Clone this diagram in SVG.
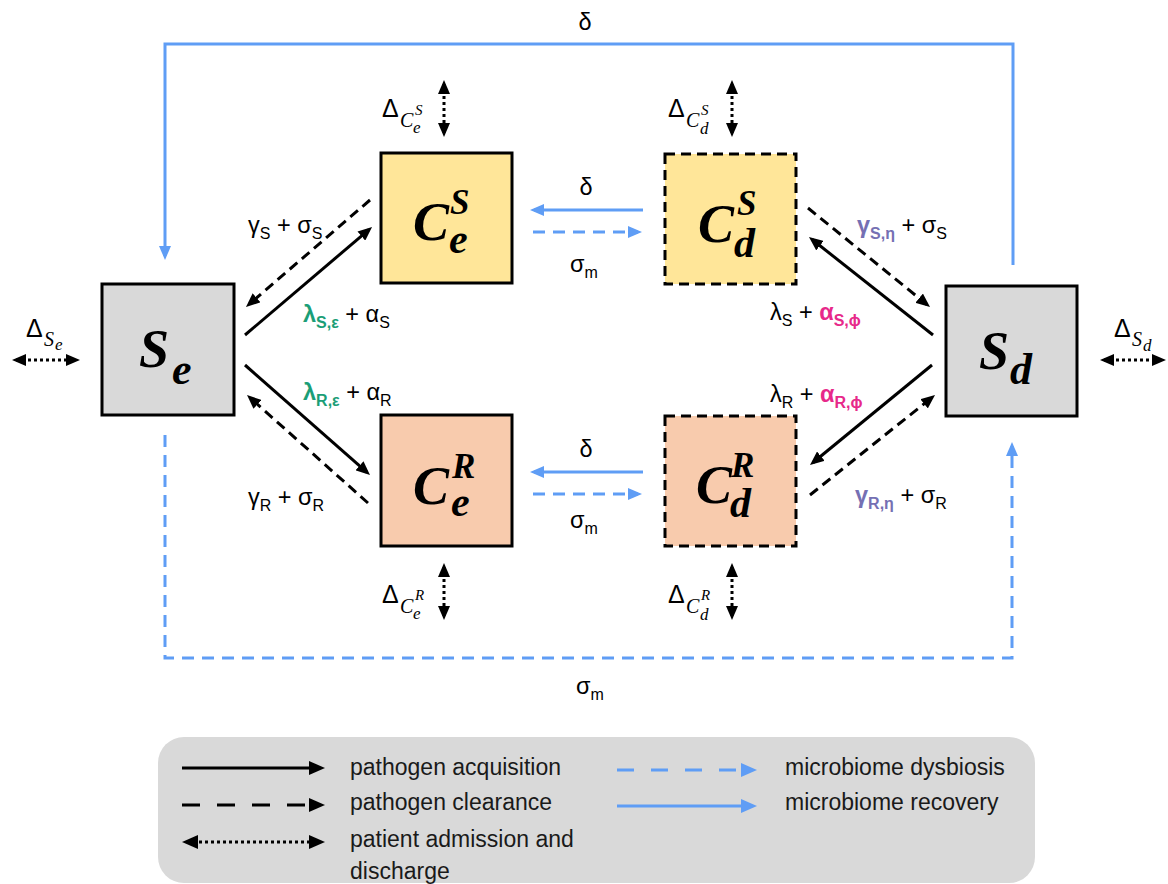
<svg xmlns="http://www.w3.org/2000/svg" width="1168" height="884" viewBox="0 0 1168 884">
<style>
.lbl{font-family:"Liberation Sans",Arial,sans-serif;font-size:23.5px;fill:#000}
.sub{font-size:16px}
.b{font-weight:bold}
.g{fill:#1b9e77}
.p{fill:#e7298a}
.v{fill:#7570b3}
.node{font-family:"Liberation Serif","Times New Roman",serif;font-weight:bold;font-style:italic;fill:#000}
.mi{font-family:"Liberation Serif","Times New Roman",serif;font-style:italic}
.blk{stroke:#000;stroke-width:3;fill:none}
.dash{stroke-dasharray:10 6}
.dot{stroke-dasharray:3 3}
.blue{stroke:#5f9df5;stroke-width:3;fill:none}
.bdash{stroke-dasharray:12 8}
.box{stroke:#000;stroke-width:3}
.leg{font-family:"Liberation Sans",Arial,sans-serif;font-size:23px;fill:#1a1a1a}
</style>
<defs>
<marker id="ab" viewBox="0 0 14 12" refX="10" refY="6" markerWidth="14" markerHeight="12" markerUnits="userSpaceOnUse" orient="auto-start-reverse"><path d="M0,0 L14,6 L0,12 z" fill="#000"/></marker>
<marker id="abl" viewBox="0 0 14 12" refX="10" refY="6" markerWidth="14" markerHeight="12" markerUnits="userSpaceOnUse" orient="auto-start-reverse"><path d="M0,0 L14,6 L0,12 z" fill="#5f9df5"/></marker>
<marker id="abL" viewBox="0 0 16 14" refX="11" refY="7" markerWidth="16" markerHeight="14" markerUnits="userSpaceOnUse" orient="auto-start-reverse"><path d="M0,0 L16,7 L0,14 z" fill="#000"/></marker>
<marker id="ablL" viewBox="0 0 16 14" refX="11" refY="7" markerWidth="16" markerHeight="14" markerUnits="userSpaceOnUse" orient="auto-start-reverse"><path d="M0,0 L16,7 L0,14 z" fill="#5f9df5"/></marker>
</defs>
<rect width="1168" height="884" fill="#fff"/>

<g id="connectors">
  <path class="blue" d="M1013,265 L1013,44 L165,44 L165,256" marker-end="url(#abl)"/>
  <path class="blue bdash" d="M165,435 L165,658 L1012,658 L1012,446" marker-end="url(#abl)"/>
  <line class="blue" x1="643" y1="210" x2="534" y2="210" marker-end="url(#abl)"/>
  <line class="blue bdash" x1="533" y1="232" x2="638" y2="232" marker-end="url(#abl)"/>
  <line class="blue" x1="643" y1="472" x2="534" y2="472" marker-end="url(#abl)"/>
  <line class="blue bdash" x1="533" y1="494" x2="638" y2="494" marker-end="url(#abl)"/>
  <line class="blk" x1="245" y1="335" x2="369" y2="229.6" marker-end="url(#ab)"/>
  <line class="blk dash" x1="370" y1="200" x2="249" y2="304.4" marker-end="url(#ab)"/>
  <line class="blk" x1="245" y1="365" x2="367" y2="472.4" marker-end="url(#ab)"/>
  <line class="blk dash" x1="368" y1="503" x2="250" y2="397.7" marker-end="url(#ab)"/>
  <line class="blk dash" x1="808" y1="208" x2="926.9" y2="304.5" marker-end="url(#ab)"/>
  <line class="blk" x1="933" y1="335" x2="812.1" y2="239.5" marker-end="url(#ab)"/>
  <line class="blk" x1="932" y1="365" x2="813.1" y2="462.5" marker-end="url(#ab)"/>
  <line class="blk dash" x1="810" y1="495" x2="931.9" y2="397.5" marker-end="url(#ab)"/>
  <line class="blk dot" x1="444" y1="84" x2="444" y2="133" marker-start="url(#ab)" marker-end="url(#ab)"/>
  <line class="blk dot" x1="732" y1="84" x2="732" y2="133" marker-start="url(#ab)" marker-end="url(#ab)"/>
  <line class="blk dot" x1="444" y1="567" x2="444" y2="616" marker-start="url(#ab)" marker-end="url(#ab)"/>
  <line class="blk dot" x1="732" y1="567" x2="732" y2="616" marker-start="url(#ab)" marker-end="url(#ab)"/>
  <line class="blk dot" x1="16" y1="360" x2="76" y2="360" marker-start="url(#ab)" marker-end="url(#ab)"/>
  <line class="blk dot" x1="1104" y1="360" x2="1162" y2="360" marker-start="url(#ab)" marker-end="url(#ab)"/>

  <text class="lbl" x="585" y="30" text-anchor="middle">δ</text>
  <text class="lbl" x="586" y="195" text-anchor="middle">δ</text>
  <text class="lbl" x="586" y="457" text-anchor="middle">δ</text>
  <text class="lbl" x="570" y="272">σ<tspan class="sub" dy="6">m</tspan></text>
  <text class="lbl" x="570" y="528">σ<tspan class="sub" dy="6">m</tspan></text>
  <text class="lbl" x="576" y="694">σ<tspan class="sub" dy="6">m</tspan></text>

  <text class="lbl" x="248" y="233">γ<tspan class="sub" dy="6">S</tspan><tspan dy="-6"> + σ</tspan><tspan class="sub" dy="6">S</tspan></text>
  <text class="lbl" x="303" y="322"><tspan class="g b">λ</tspan><tspan class="g b sub" dy="6">S,ε</tspan><tspan dy="-6"> + α</tspan><tspan class="sub" dy="6">S</tspan></text>
  <text class="lbl" x="303" y="400"><tspan class="g b">λ</tspan><tspan class="g b sub" dy="6">R,ε</tspan><tspan dy="-6"> + α</tspan><tspan class="sub" dy="6">R</tspan></text>
  <text class="lbl" x="248" y="505">γ<tspan class="sub" dy="6">R</tspan><tspan dy="-6"> + σ</tspan><tspan class="sub" dy="6">R</tspan></text>

  <text class="lbl" x="857" y="233"><tspan class="v b">γ</tspan><tspan class="v b sub" dy="6">S,η</tspan><tspan dy="-6"> + σ</tspan><tspan class="sub" dy="6">S</tspan></text>
  <text class="lbl" x="770" y="320">λ<tspan class="sub" dy="6">S</tspan><tspan dy="-6"> + </tspan><tspan class="p b">α</tspan><tspan class="p b sub" dy="6">S,ϕ</tspan></text>
  <text class="lbl" x="770" y="402">λ<tspan class="sub" dy="6">R</tspan><tspan dy="-6"> + </tspan><tspan class="p b">α</tspan><tspan class="p b sub" dy="6">R,ϕ</tspan></text>
  <text class="lbl" x="855" y="503"><tspan class="v b">γ</tspan><tspan class="v b sub" dy="6">R,η</tspan><tspan dy="-6"> + σ</tspan><tspan class="sub" dy="6">R</tspan></text>

  <text class="lbl" style="font-size:25px"><tspan x="382" y="117">Δ</tspan><tspan class="mi" font-size="20" x="400" y="127">C</tspan><tspan class="mi" font-size="15" x="415" y="115">S</tspan><tspan class="mi" font-size="17" x="413" y="133">e</tspan></text>
  <text class="lbl" style="font-size:25px"><tspan x="668" y="117">Δ</tspan><tspan class="mi" font-size="20" x="686" y="127">C</tspan><tspan class="mi" font-size="15" x="701" y="115">S</tspan><tspan class="mi" font-size="17" x="700" y="134">d</tspan></text>
  <text class="lbl" style="font-size:25px"><tspan x="382" y="603">Δ</tspan><tspan class="mi" font-size="20" x="400" y="613">C</tspan><tspan class="mi" font-size="15" x="415" y="600">R</tspan><tspan class="mi" font-size="17" x="413" y="619">e</tspan></text>
  <text class="lbl" style="font-size:25px"><tspan x="668" y="603">Δ</tspan><tspan class="mi" font-size="20" x="686" y="613">C</tspan><tspan class="mi" font-size="15" x="701" y="600">R</tspan><tspan class="mi" font-size="17" x="700" y="620">d</tspan></text>
  <text class="lbl" style="font-size:25px"><tspan x="26" y="337">Δ</tspan><tspan class="mi" font-size="20" x="44" y="346">S</tspan><tspan class="mi" font-size="17" x="55" y="350">e</tspan></text>
  <text class="lbl" style="font-size:25px"><tspan x="1114" y="337">Δ</tspan><tspan class="mi" font-size="20" x="1132" y="346">S</tspan><tspan class="mi" font-size="17" x="1143" y="351">d</tspan></text>
</g>

<g id="Se">
  <rect class="box" x="102" y="284" width="132" height="131" fill="#d9d9d9"/>
  <text class="node"><tspan x="139" y="367" font-size="54">S</tspan><tspan x="172" y="384" font-size="44">e</tspan></text>
</g>
<g id="Sd">
  <rect class="box" x="946" y="286" width="131" height="130" fill="#d9d9d9"/>
  <text class="node"><tspan x="979" y="369" font-size="54">S</tspan><tspan x="1010" y="384" font-size="44">d</tspan></text>
</g>
<g id="CeS">
  <rect class="box" x="381" y="153" width="131" height="130" fill="#ffe699"/>
  <text class="node"><tspan x="413" y="240" font-size="54">C</tspan><tspan x="450" y="214" font-size="35">S</tspan><tspan x="449" y="253" font-size="42">e</tspan></text>
</g>
<g id="CdS">
  <rect class="box dash" x="665" y="154" width="131" height="130" fill="#ffe699"/>
  <text class="node"><tspan x="698" y="242" font-size="54">C</tspan><tspan x="737" y="215" font-size="35">S</tspan><tspan x="734" y="257" font-size="42">d</tspan></text>
</g>
<g id="CeR">
  <rect class="box" x="381" y="415" width="131" height="131" fill="#f8cbad"/>
  <text class="node"><tspan x="413" y="504" font-size="54">C</tspan><tspan x="452" y="478" font-size="35">R</tspan><tspan x="451" y="516" font-size="42">e</tspan></text>
</g>
<g id="CdR">
  <rect class="box dash" x="665" y="416" width="131" height="130" fill="#f8cbad"/>
  <text class="node"><tspan x="696" y="503" font-size="54">C</tspan><tspan x="731" y="477" font-size="35">R</tspan><tspan x="730" y="517" font-size="42">d</tspan></text>
</g>

<g id="legend">
  <rect x="158" y="737" width="877" height="146" rx="26" fill="#d9d9d9"/>
  <line class="blk" stroke-width="4" x1="182" y1="768" x2="320" y2="768" marker-end="url(#abL)"/>
  <line class="blk" stroke-width="4" stroke-dasharray="18 17" x1="182" y1="805" x2="320" y2="805" marker-end="url(#abL)"/>
  <line class="blk dot" stroke-width="4" x1="187" y1="842" x2="320" y2="842" marker-start="url(#abL)" marker-end="url(#abL)"/>
  <line class="blue" stroke-width="4" stroke-dasharray="17 17" x1="617" y1="770" x2="752" y2="770" marker-end="url(#ablL)"/>
  <line class="blue" stroke-width="4" x1="617" y1="806" x2="752" y2="806" marker-end="url(#ablL)"/>
  <text class="leg" x="350" y="775">pathogen acquisition</text>
  <text class="leg" x="350" y="810">pathogen clearance</text>
  <text class="leg" x="350" y="847">patient admission and</text>
  <text class="leg" x="350" y="879">discharge</text>
  <text class="leg" x="785" y="775">microbiome dysbiosis</text>
  <text class="leg" x="785" y="810">microbiome recovery</text>
</g>
</svg>
